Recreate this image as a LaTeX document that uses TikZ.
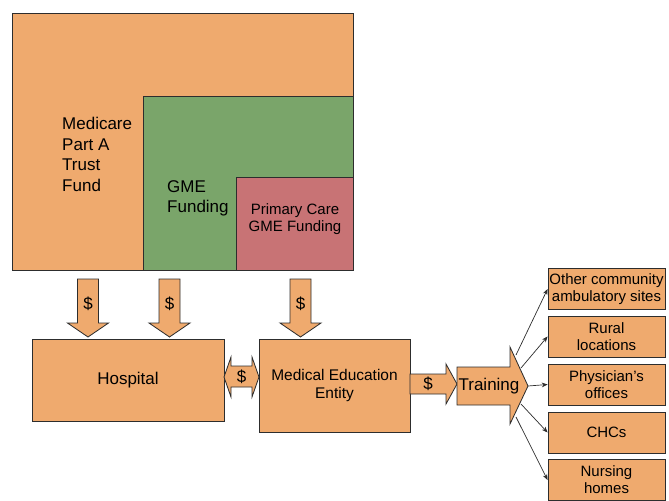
\documentclass[tikz,border=0pt]{standalone}
\usepackage{fontspec}
\setmainfont{Liberation Sans}
\usetikzlibrary{arrows.meta,positioning}
\definecolor{gmeorange}{RGB}{239,170,110}
\definecolor{gmegreen}{RGB}{122,165,106}
\definecolor{gmered}{RGB}{200,115,117}
\definecolor{gmeline}{RGB}{45,45,45}
\tikzset{
  pane/.style={draw=gmeline,line width=0.7pt},
  box/.style={pane,fill=gmeorange,align=center,inner sep=0pt},
  bigtext/.style={font=\fontsize{14.5}{17.5}\selectfont},
  midtext/.style={font=\fontsize{13.2}{16.2}\selectfont},
  smalltext/.style={font=\fontsize{12.8}{14.6}\selectfont},
  flow/.style={draw=gmeline,line width=0.6pt,-{Stealth[length=5pt,width=4pt]}}
}
\begin{document}
\begin{tikzpicture}[x=0.03cm,y=-0.03cm]
\useasboundingbox (0,0) rectangle (669,500);

\fill[fill=gmeorange] (12,13) rectangle (353,270);
\fill[fill=gmegreen] (143,96) rectangle (353,270);
\fill[fill=gmered] (236,177) rectangle (353,270);
\draw[pane] (143,270) -- (143,96) -- (353,96);
\draw[pane] (236,270) -- (236,177) -- (353,177);
\draw[pane] (12,13) rectangle (353,270);

\node (medicare) [anchor=north west,bigtext,align=left,inner sep=0pt] at (62,117) {Medicare\\Part A\\Trust\\Fund};
\node (gme) [anchor=north west,bigtext,align=left,inner sep=0pt] at (167,180) {GME\\Funding};
\node (primary) [smalltext,align=center] at (295,219) {Primary Care\\GME Funding};

\foreach \x in {88,169.5,300.5} {
\draw[pane,fill=gmeorange] (\x-10.5,279) -- (\x+10.5,279) -- (\x+10.5,323) -- (\x+20.5,323)
  -- (\x,337) -- (\x-20.5,323) -- (\x-10.5,323) -- cycle;
\node at (\x,304) [bigtext] {\$};
}

\node (hospital) [box,bigtext,minimum width=5.76cm,minimum height=2.46cm] at (128,380) {Hospital};
\node (mee) [box,midtext,minimum width=4.53cm,minimum height=2.79cm] at (334.5,385.5) {Medical Education\\Entity};

\draw[pane,fill=gmeorange] (224,377) -- (231,357) -- (231,366) -- (252,366) -- (252,357) -- (259,377)
  -- (252,397) -- (252,387) -- (231,387) -- (231,397) -- cycle;
\node (swap) at (241.5,377) [bigtext] {\$};

\draw[pane,fill=gmeorange] (410,374) -- (446,374) -- (446,364) -- (457,384) -- (446,404) -- (446,394) -- (410,394) -- cycle;
\node (pay) at (428,384) [bigtext] {\$};

\draw[pane,fill=gmeorange] (457,367) -- (510,367) -- (510,347) -- (528,386) -- (510,424) -- (510,405) -- (457,405) -- cycle;
\node (training) at (489,386) [bigtext,inner sep=0pt] {Training};

\node (s1) [box,smalltext,minimum width=3.51cm,minimum height=1.23cm] at (606.5,289) {Other community\\ambulatory sites};
\node (s2) [box,smalltext,minimum width=3.51cm,minimum height=1.23cm] at (606.5,336.5) {Rural\\locations};
\node (s3) [box,smalltext,minimum width=3.51cm,minimum height=1.23cm] at (606.5,384.5) {Physician’s\\offices};
\node (s4) [box,smalltext,minimum width=3.51cm,minimum height=1.23cm] at (606.5,432.5) {CHCs};
\node (s5) [box,smalltext,minimum width=3.51cm,minimum height=1.23cm] at (606.5,480) {Nursing\\homes};

\coordinate (t1) at (516,355);
\coordinate (t2) at (521,368);
\coordinate (t3) at (528,386);
\coordinate (t4) at (521,404);
\coordinate (t5) at (516,417);

\foreach \i in {1,2,3,4,5} {
\draw[flow] (t\i) -- (s\i.west);
};
\end{tikzpicture}
\end{document}
